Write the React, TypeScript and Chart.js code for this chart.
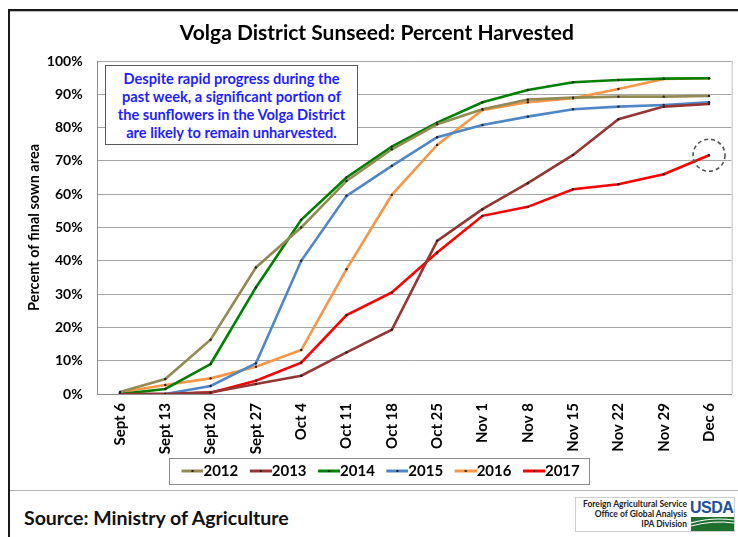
import React, { useEffect, useRef } from "react";
import { Chart, registerables } from "chart.js";

Chart.register(...registerables);

const weeks = [
  "Sept 6", "Sept 13", "Sept 20", "Sept 27", "Oct 4", "Oct 11", "Oct 18",
  "Oct 25", "Nov 1", "Nov 8", "Nov 15", "Nov 22", "Nov 29", "Dec 6",
];
const years = ["2012", "2013", "2014", "2015", "2016", "2017"];
const y2012 = [0.6, 4.5, 16.3, 38, 50, 64, 73.5, 81, 85.5, 88.4, 89, 89.3, 89.3, 89.5];
const y2013 = [0, 0, 0.5, 3, 5.5, 12.5, 19.3, 46, 55.5, 63.3, 71.8, 82.5, 86.3, 87.1];
const y2014 = [0, 1.5, 9, 32, 52.3, 65, 74.3, 81.5, 87.6, 91.3, 93.6, 94.3, 94.7, 94.8];
const y2015 = [0, 0, 2.4, 9.2, 40, 59.5, 68.5, 77.1, 80.8, 83.3, 85.5, 86.3, 86.8, 87.6];
const y2016 = [0.5, 2.7, 4.7, 8.2, 13.2, 37.5, 59.8, 74.8, 85.3, 87.6, 88.8, 91.6, 94.6, 94.8];
const y2017 = [0, 0, 0.4, 4, 9.4, 23.7, 30.5, 42.5, 53.5, 56.2, 61.5, 63, 66, 71.7];
const seriesValues = [y2012, y2013, y2014, y2015, y2016, y2017];
const seriesColors = ["#948a54", "#943634", "#008000", "#4f86c6", "#f79646", "#ff0000"];
const yTickValues = [0, 10, 20, 30, 40, 50, 60, 70, 80, 90, 100];

const titleText = "Volga District Sunseed: Percent Harvested";
const yTitle = "Percent of final sown area";
const noteLines = [
  "Despite rapid progress during the",
  "past week, a significant portion of",
  "the sunflowers in the Volga District",
  "are likely to remain unharvested.",
];
const sourceText = "Source: Ministry of Agriculture";
const logoLines = ["Foreign Agricultural Service", "Office of Global Analysis", "IPA Division"];

const FONT = "Lato, 'Open Sans', sans-serif";
const LEGEND_BOX = 22;

function makeSample(color: string): HTMLCanvasElement {
  // image is centered on the legend box; the visible line sits at its right end
  const w = LEGEND_BOX + 15;
  const c = document.createElement("canvas");
  c.width = w;
  c.height = 6;
  const ctx = c.getContext("2d")!;
  ctx.strokeStyle = color;
  ctx.lineWidth = 3;
  ctx.beginPath();
  ctx.moveTo(w - 22, 3);
  ctx.lineTo(w, 3);
  ctx.stroke();
  ctx.fillStyle = "#222";
  ctx.fillRect(w - 12, 2, 2, 2);
  return c;
}

const framePlugin = {
  id: "framePlugin",
  afterDraw(chart: any) {
    const ctx = chart.ctx;
    const { right, top, bottom } = chart.chartArea;
    ctx.save();
    ctx.strokeStyle = "#bfbfbf";
    ctx.lineWidth = 1;
    ctx.beginPath();
    ctx.moveTo(right + 0.5, top);
    ctx.lineTo(right + 0.5, bottom);
    ctx.stroke();
    // legend border
    const lg = chart.legend;
    const hb = lg && lg.legendHitBoxes;
    if (hb && hb.length) {
      const first = hb[0];
      const last = hb[hb.length - 1];
      const sampleStart = first.left + LEGEND_BOX + 7.5 - 22;
      const bl = sampleStart - 12;
      const br = last.left + last.width + 10;
      const bt = first.top - 5.5;
      ctx.strokeStyle = "#8c8c8c";
      ctx.strokeRect(Math.round(bl) + 0.5, Math.round(bt) + 0.5, Math.round(br - bl), 26);
    }
    // dashed circle around latest 2017 value
    const meta = chart.getDatasetMeta(5);
    const pt = meta.data[meta.data.length - 1];
    if (pt) {
      ctx.setLineDash([4, 3]);
      ctx.strokeStyle = "#555";
      ctx.lineWidth = 1.6;
      ctx.beginPath();
      ctx.arc(pt.x, pt.y, 16, 0, Math.PI * 2);
      ctx.stroke();
    }
    ctx.restore();
  },
};

export default function App() {
  const ref = useRef<HTMLCanvasElement | null>(null);

  useEffect(() => {
    if (!ref.current) return;
    const chart = new Chart(ref.current, {
      type: "line",
      data: {
        labels: weeks,
        datasets: years.map((y, i) => ({
          label: y,
          data: seriesValues[i],
          borderColor: seriesColors[i],
          backgroundColor: seriesColors[i],
          borderWidth: 2.6,
          pointRadius: 1.2,
          pointBorderWidth: 0,
          pointBackgroundColor: "#222",
          tension: 0,
        })),
      },
      options: {
        animation: false,
        responsive: false,
        maintainAspectRatio: false,
        layout: { padding: { left: 12, right: 6.3, top: 0, bottom: 1.5 } },
        plugins: {
          title: {
            display: true,
            text: titleText,
            color: "#000",
            font: { family: FONT, size: 21, weight: "bold", lineHeight: 1.2 },
            padding: { top: 8, bottom: 14.8 },
          },
          legend: {
            display: true,
            position: "bottom",
            labels: {
              usePointStyle: true,
              pointStyleWidth: LEGEND_BOX,
              padding: 4,
              color: "#000",
              font: { family: FONT, size: 15, weight: "bold" },
              generateLabels: (ch: any) =>
                ch.data.datasets.map((ds: any, i: number) => ({
                  text: ds.label,
                  pointStyle: makeSample(ds.borderColor),
                  fillStyle: ds.borderColor,
                  strokeStyle: ds.borderColor,
                  lineWidth: 0,
                  hidden: false,
                  datasetIndex: i,
                  fontColor: "#000",
                })),
            },
          },
          tooltip: { enabled: false },
        },
        scales: {
          x: {
            offset: true,
            grid: { display: false, drawTicks: false },
            border: { display: true, color: "#8c8c8c" },
            ticks: {
              autoSkip: false,
              minRotation: 90,
              maxRotation: 90,
              padding: 9,
              color: "#000",
              font: { family: FONT, size: 15, weight: "bold" },
            },
            afterFit: (s: any) => {
              s.height = 65.5;
            },
          },
          y: {
            min: 0,
            max: 100,
            afterBuildTicks: (s: any) => {
              s.ticks = yTickValues.map((v) => ({ value: v }));
            },
            ticks: {
              padding: 14.6,
              color: "#000",
              font: { family: FONT, size: 14, weight: "bold" },
              callback: (v: any) => v + "%",
            },
            grid: { color: "#a6a6a6", drawTicks: false, lineWidth: 1 },
            border: { display: true, color: "#8c8c8c" },
            title: {
              display: true,
              text: yTitle,
              color: "#000",
              font: { family: FONT, size: 14.5, weight: "bold", lineHeight: 1.2 },
              padding: { top: 4 },
            },
            afterFit: (s: any) => {
              s.width = 87.3 - 12;
            },
          },
        },
      },
      plugins: [framePlugin],
    });
    return () => chart.destroy();
  }, []);

  return (
    <div
      style={{
        position: "fixed",
        left: 0,
        top: 0,
        width: 738,
        height: 537,
        background: "#fff",
        overflow: "hidden",
        fontFamily: FONT,
      }}
    >
      <div
        style={{
          position: "absolute",
          left: 8,
          top: 9,
          width: 730,
          height: 528,
          borderTop: "2px solid #1a1a1a",
          borderLeft: "2px solid #1a1a1a",
          boxSizing: "border-box",
        }}
      />
      <div
        style={{
          position: "absolute",
          left: 10,
          top: 11,
          width: 728,
          height: 480,
          borderTop: "1px solid #bdbdbd",
          borderBottom: "1.5px solid #b5b5b5",
          boxSizing: "border-box",
        }}
      />
      <div style={{ position: "absolute", left: 10, top: 13, width: 728, height: 477 }}>
        <canvas ref={ref} width={728} height={477} style={{ width: 728, height: 477, display: "block" }} />
      </div>
      <div
        style={{
          position: "absolute",
          left: 105,
          top: 65,
          width: 253,
          height: 80,
          boxSizing: "border-box",
          border: "1.5px solid #5a5a5a",
          background: "#fff",
          color: "#1f1fff",
          fontWeight: 700,
          fontSize: 14.6,
          lineHeight: "18px",
          textAlign: "center",
          paddingTop: 4,
          whiteSpace: "nowrap",
        }}
      >
        {noteLines.map((l, i) => (
          <div key={i}>{l}</div>
        ))}
      </div>
      <div
        style={{
          position: "absolute",
          left: 24,
          top: 506,
          fontSize: 19.5,
          fontWeight: 700,
          color: "#111",
          whiteSpace: "nowrap",
          lineHeight: "24px",
        }}
      >
        {sourceText}
      </div>
      <div
        style={{
          position: "absolute",
          left: 575,
          top: 497,
          width: 160,
          height: 35,
          boxSizing: "border-box",
          border: "1px solid #cfcfcf",
          background: "#fff",
        }}
      >
        <div
          style={{
            position: "absolute",
            right: 47,
            top: 1,
            textAlign: "right",
            fontSize: 8.5,
            fontWeight: 700,
            lineHeight: "10px",
            color: "#222",
            whiteSpace: "nowrap",
          }}
        >
          {logoLines.map((l, i) => (
            <div key={i}>{l}</div>
          ))}
        </div>
        <div
          style={{
            position: "absolute",
            left: 114,
            top: 0,
            fontSize: 16,
            fontWeight: 700,
            color: "#1d4f9a",
            lineHeight: "19px",
            fontFamily: "'Liberation Sans', Arial, sans-serif",
            letterSpacing: -0.5,
          }}
        >
          USDA
        </div>
        <svg
          style={{ position: "absolute", left: 115, top: 19 }}
          width={43}
          height={14}
          viewBox="0 0 43 14"
        >
          <rect x={0} y={0} width={43} height={14} fill="#1f6f2e" />
          <path d="M0 6 Q 20 0 43 3" stroke="#fff" strokeWidth={1.2} fill="none" />
          <path d="M0 9 Q 22 3 43 6" stroke="#fff" strokeWidth={1} fill="none" />
        </svg>
      </div>
    </div>
  );
}
